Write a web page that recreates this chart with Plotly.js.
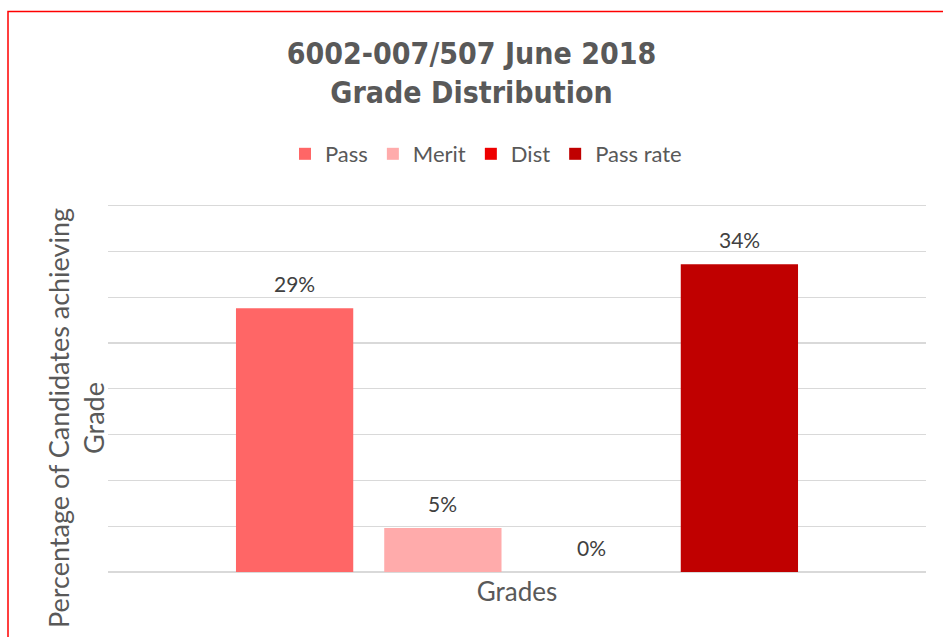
<!DOCTYPE html>
<html>
<head>
<meta charset="utf-8">
<script src="https://cdn.plot.ly/plotly-3.0.1.min.js"></script>
<style>
  html, body { margin: 0; padding: 0; background: #ffffff; }
  #chart { width: 943px; height: 637px; }
  .gtitle { font-stretch: condensed !important; }
</style>
</head>
<body>
<div id="chart"></div>
<script>
const category = ['Grades'];
const seriesNames = ['Pass', 'Merit', 'Dist', 'Pass rate'];
const seriesValues = [28.8, 4.8, 0, 33.6];
const seriesColors = ['#FF6666', '#FFABAB', '#EE0000', '#C00000'];
const yTicks = [0, 5, 10, 15, 20, 25, 30, 35, 40];

const traces = seriesNames.map((name, i) => ({
  type: 'bar',
  name: name,
  x: category,
  y: [seriesValues[i]],
  marker: { color: seriesColors[i] },
  hoverinfo: 'skip'
}));

const bodyFamily = 'Lato, "Open Sans", sans-serif';
const labelFont = { family: bodyFamily, size: 21, color: '#404040' };

const nBars = seriesNames.length;
const bargap = 0.275;
const slot = (1 - bargap) / nBars;
const annotations = seriesNames.map((name, i) => ({
  xref: 'x', yref: 'y',
  x: -0.5 + bargap / 2 + slot * (i + 0.5),
  y: seriesValues[i],
  text: Math.round(seriesValues[i]) + '%',
  showarrow: false,
  yanchor: 'middle',
  yshift: 25,
  font: labelFont
}));

const plotTop = 201, plotBottom = 572, plotH = plotBottom - plotTop;

annotations.push({
  xref: 'paper', yref: 'paper',
  x: (76 - 108) / 818, y: (plotBottom - 418) / plotH,
  text: 'Percentage of Candidates achieving<br>Grade',
  textangle: -90,
  showarrow: false,
  align: 'center',
  xanchor: 'center', yanchor: 'middle',
  font: { family: bodyFamily, size: 27, color: '#595959' }
});

const layout = {
  width: 943, height: 637,
  margin: { l: 108, r: 17, t: plotTop, b: 637 - plotBottom, pad: 0 },
  paper_bgcolor: '#ffffff',
  plot_bgcolor: '#ffffff',
  barmode: 'group',
  bargap: bargap,
  bargroupgap: 0.209,
  showlegend: true,
  title: {
    text: '<b>6002-007/507 June 2018<br>Grade Distribution</b>',
    font: { family: '"DejaVu Sans Condensed", "DejaVu Sans", sans-serif', size: 30, color: '#595959' },
    x: 0.5, xanchor: 'center',
    yref: 'container',
    y: 1 - 64 / 637, yanchor: 'middle'
  },
  legend: {
    orientation: 'h',
    x: (486 - 108) / 818, xanchor: 'center',
    y: (plotBottom - 154) / plotH, yanchor: 'middle',
    font: { family: bodyFamily, size: 22, color: '#595959' },
    itemwidth: 30,
    traceorder: 'normal'
  },
  xaxis: {
    type: 'category',
    range: [-0.5, 0.5],
    showticklabels: false,
    showgrid: false,
    zeroline: false,
    showline: false,
    ticks: '',
    title: {
      text: 'Grades',
      font: { family: bodyFamily, size: 26, color: '#595959' },
      standoff: 10
    }
  },
  yaxis: {
    range: [0, 40.51],
    tickvals: yTicks,
    showticklabels: false,
    showgrid: true,
    gridcolor: '#d9d9d9',
    gridwidth: 1.3,
    zeroline: true,
    zerolinecolor: '#d9d9d9',
    zerolinewidth: 1.5,
    showline: false,
    ticks: ''
  },
  annotations: annotations,
  shapes: [{
    type: 'rect',
    xref: 'paper', yref: 'paper',
    x0: (8 - 108) / 818, x1: (960 - 108) / 818,
    y0: (plotBottom - 660) / plotH, y1: (plotBottom - 11.5) / plotH,
    line: { color: '#FF0000', width: 1.5 },
    fillcolor: 'rgba(0,0,0,0)',
    layer: 'below'
  }]
};

Plotly.newPlot('chart', traces, layout, { displayModeBar: false, staticPlot: true });
</script>
</body>
</html>
